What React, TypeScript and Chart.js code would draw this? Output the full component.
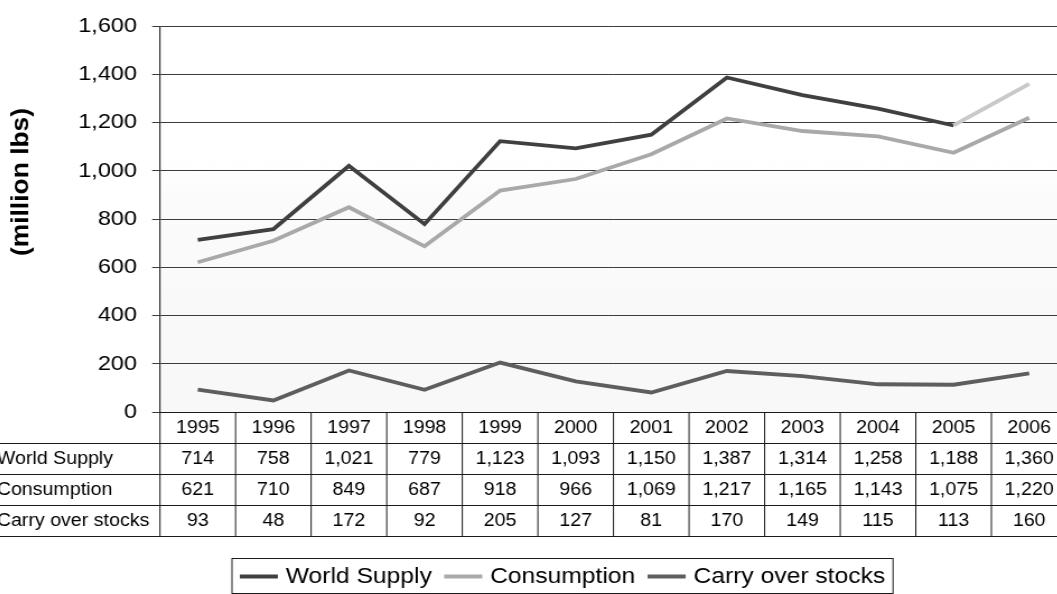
import React, { useEffect, useRef } from "react";
import { Chart, registerables } from "chart.js";

Chart.register(...registerables);

const YEARS = ["1995", "1996", "1997", "1998", "1999", "2000", "2001", "2002", "2003", "2004", "2005", "2006"];
const WORLD_SUPPLY = [714, 758, 1021, 779, 1123, 1093, 1150, 1387, 1314, 1258, 1188, 1360];
const CONSUMPTION = [621, 710, 849, 687, 918, 966, 1069, 1217, 1165, 1143, 1075, 1220];
const CARRY_OVER = [93, 48, 172, 92, 205, 127, 81, 170, 149, 115, 113, 160];
const SERIES_NAMES = ["World Supply", "Consumption", "Carry over stocks"];
const Y_TICKS = [0, 200, 400, 600, 800, 1000, 1200, 1400, 1600];
const Y_TITLE = "(million lbs)";

const FONT = '"Liberation Sans", Arial, Helvetica, sans-serif';
const STRETCH = 1.12;
const CANVAS_W = 982;
const CANVAS_H = 594;

const COLORS = ["#404040", "#a9a9a9", "#5e5e5e"];
const FADED_SUPPLY = "#c9c9c9";

const fmt = (v: number) => v.toLocaleString("en-US");

const bgPlugin = {
  id: "bgGradient",
  beforeDraw(chart: any) {
    const { ctx, chartArea } = chart;
    ctx.save();
    ctx.fillStyle = "#ffffff";
    ctx.fillRect(0, 0, chart.width, chart.height);
    const g = ctx.createLinearGradient(0, chartArea.top, 0, chartArea.bottom);
    g.addColorStop(0, "#ffffff");
    g.addColorStop(0.35, "#ffffff");
    g.addColorStop(0.45, "#fbfbfb");
    g.addColorStop(1, "#f8f8f8");
    ctx.fillStyle = g;
    ctx.fillRect(chartArea.left, chartArea.top, chartArea.right - chartArea.left, chartArea.bottom - chartArea.top);
    ctx.restore();
  },
};

const tablePlugin = {
  id: "dataTable",
  afterDraw(chart: any) {
    const { ctx, chartArea } = chart;
    const x = chart.scales.x;
    const n = YEARS.length;
    const colW = (chartArea.right - chartArea.left) / n;
    const top = chartArea.bottom;
    const rowH = 31;
    const rows: number[][] = [WORLD_SUPPLY, CONSUMPTION, CARRY_OVER];
    ctx.save();
    ctx.strokeStyle = "#1a1a1a";
    ctx.lineWidth = 1;
    ctx.beginPath();
    ctx.moveTo(chartArea.left, top + 0.5);
    ctx.lineTo(chart.width, top + 0.5);
    for (let k = 1; k <= 4; k++) {
      const yy = Math.round(top + rowH * k) + 0.5;
      ctx.moveTo(0, yy);
      ctx.lineTo(chart.width, yy);
    }
    for (let i = 0; i <= n; i++) {
      const cx = i < n ? x.getPixelForValue(i) - colW / 2 : x.getPixelForValue(n - 1) + colW / 2;
      ctx.moveTo(cx, top);
      ctx.lineTo(cx, top + rowH * 4 + 0.5);
    }
    ctx.stroke();

    ctx.fillStyle = "#000";
    ctx.font = `17.5px ${FONT}`;
    ctx.textBaseline = "middle";
    ctx.textAlign = "center";
    YEARS.forEach((yr, i) => {
      ctx.fillText(yr, x.getPixelForValue(i), top + rowH * 0.5 + 1);
    });
    rows.forEach((vals, r) => {
      const cy = top + rowH * (r + 1.5) + 1;
      ctx.textAlign = "left";
      ctx.fillText(SERIES_NAMES[r], 15, cy);
      ctx.textAlign = "center";
      vals.forEach((v, i) => {
        ctx.fillText(fmt(v), x.getPixelForValue(i), cy);
      });
    });
    ctx.restore();
  },
};

const legendPlugin = {
  id: "boxLegend",
  afterDraw(chart: any) {
    const { ctx } = chart;
    ctx.save();
    ctx.font = `22px ${FONT}`;
    const sample = 34;
    const gapSample = 7;
    const gapItem = 11;
    const pad = 7;
    const widths = SERIES_NAMES.map((s) => ctx.measureText(s).width);
    let total = pad * 2;
    widths.forEach((w, i) => {
      total += sample + gapSample + w + (i < widths.length - 1 ? gapItem : 0);
    });
    const left = 225;
    const top = 558;
    const h = 35;
    ctx.fillStyle = "#fff";
    ctx.fillRect(left, top, total, h);
    ctx.strokeStyle = "#1a1a1a";
    ctx.lineWidth = 1;
    ctx.strokeRect(left, top + 0.5, total, h);
    let cx = left + pad;
    const cy = top + h / 2 + 1;
    SERIES_NAMES.forEach((name, i) => {
      ctx.strokeStyle = COLORS[i];
      ctx.lineWidth = 3.8;
      ctx.beginPath();
      ctx.moveTo(cx, cy);
      ctx.lineTo(cx + sample, cy);
      ctx.stroke();
      cx += sample + gapSample;
      ctx.fillStyle = "#000";
      ctx.textAlign = "left";
      ctx.textBaseline = "middle";
      ctx.fillText(name, cx, cy);
      cx += widths[i] + gapItem;
    });
    ctx.restore();
  },
};

const titlePlugin = {
  id: "yTitle",
  afterDraw(chart: any) {
    const { ctx } = chart;
    ctx.save();
    ctx.translate(36.6, 182);
    ctx.rotate(-Math.PI / 2);
    ctx.scale(1.2, 1);
    ctx.font = `bold 22px ${FONT}`;
    ctx.fillStyle = "#000";
    ctx.textAlign = "center";
    ctx.textBaseline = "middle";
    ctx.fillText(Y_TITLE, 0, 0);
    ctx.restore();
  },
};

export default function App() {
  const ref = useRef<HTMLCanvasElement | null>(null);
  useEffect(() => {
    if (!ref.current) return;
    const chart = new Chart(ref.current, {
      type: "line",
      data: {
        labels: YEARS,
        datasets: [
          {
            label: SERIES_NAMES[0],
            data: WORLD_SUPPLY,
            borderColor: COLORS[0],
            borderWidth: 3.8,
            pointRadius: 0,
            tension: 0,
            segment: {
              borderColor: (c: any) => (c.p0DataIndex === YEARS.length - 2 ? FADED_SUPPLY : COLORS[0]),
            },
          },
          {
            label: SERIES_NAMES[1],
            data: CONSUMPTION,
            borderColor: COLORS[1],
            borderWidth: 3.8,
            pointRadius: 0,
            tension: 0,
          },
          {
            label: SERIES_NAMES[2],
            data: CARRY_OVER,
            borderColor: COLORS[2],
            borderWidth: 3.8,
            pointRadius: 0,
            tension: 0,
          },
        ],
      },
      options: {
        animation: false,
        responsive: false,
        devicePixelRatio: 1,
        layout: { padding: { top: 16, right: 11.5, left: 0, bottom: 182 } },
        plugins: { legend: { display: false }, tooltip: { enabled: false } },
        scales: {
          x: {
            type: "category",
            offset: true,
            grid: { display: false, drawTicks: false },
            border: { display: false },
            ticks: { display: false },
            afterFit: (s: any) => {
              s.height = 0;
            },
          },
          y: {
            min: 0,
            max: 1600,
            afterBuildTicks: (s: any) => {
              s.ticks = Y_TICKS.map((v) => ({ value: v }));
            },
            ticks: {
              font: { family: FONT, size: 21 },
              color: "#000",
              padding: 13.5,
              callback: (v: any) => fmt(Number(v)),
            },
            grid: { color: "#3c3c3c", lineWidth: 1, tickLength: 7, drawTicks: true },
            border: { color: "#333", width: 1.2 },
            afterFit: (s: any) => {
              s.width = 160.7;
            },
          },
        },
      },
      plugins: [bgPlugin, tablePlugin, legendPlugin, titlePlugin],
    } as any);
    return () => chart.destroy();
  }, []);

  return (
    <div style={{ position: "fixed", left: 0, top: 0, width: 1057, height: 594, overflow: "hidden", background: "#fff" }}>
      <div
        style={{
          position: "absolute",
          left: -20,
          top: 0,
          width: CANVAS_W,
          height: CANVAS_H,
          transform: `scaleX(${STRETCH})`,
          transformOrigin: "0 0",
        }}
      >
        <canvas ref={ref} width={CANVAS_W} height={CANVAS_H} style={{ width: CANVAS_W, height: CANVAS_H, display: "block" }} />
      </div>
    </div>
  );
}
